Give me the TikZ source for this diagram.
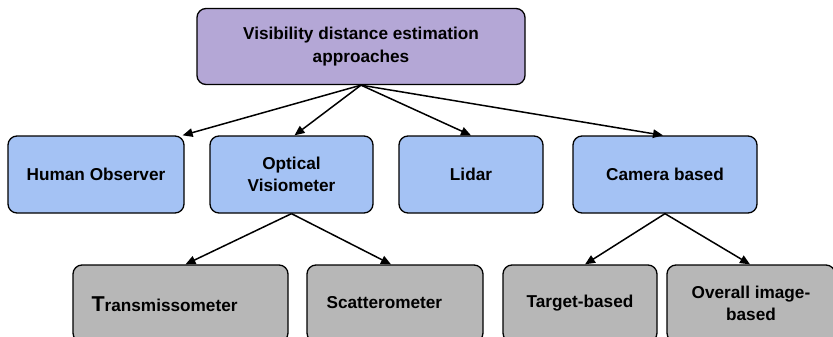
\documentclass[tikz,border=0pt]{standalone}
\usepackage{fontspec}
\setmainfont{Liberation Sans}
\usetikzlibrary{arrows.meta}

\definecolor{rootfill}{HTML}{B4A7D6}
\definecolor{midfill}{HTML}{A4C2F4}
\definecolor{lowfill}{HTML}{B7B7B7}

\tikzset{
  box/.style={draw=black, line width=1.3pt, rounded corners=9pt, align=center,
    font=\fontsize{17.2}{22.5}\selectfont\bfseries, inner sep=0pt},
  rootbox/.style={box, fill=rootfill, minimum width=328pt, minimum height=76pt},
  midbox/.style={box, fill=midfill, minimum height=77pt},
  lowbox/.style={box, fill=lowfill, minimum height=77pt},
  link/.style={line width=1.5pt, -{Triangle[length=10pt,width=8.5pt]}}
}

\begin{document}
\begin{tikzpicture}[x=1pt,y=-1pt]

        \useasboundingbox (0,0) rectangle (833,337);
        \clip (0,0) rectangle (833,337);

        % Root
        \node[rootbox] (root) at (361,46.5) {Visibility distance estimation\\approaches};

        % Approaches
        \node[midbox, minimum width=176pt] (human) at (96,174.5) {Human Observer};
        \node[midbox, minimum width=163pt] (optical) at (291.5,174.5) {Optical\\Visiometer};
        \node[midbox, minimum width=144pt] (lidar) at (471,174.5) {Lidar};
        \node[midbox, minimum width=184pt] (camera) at (665,174.5) {Camera based};

        % Optical sensors
        \node[lowbox, minimum width=215pt] (trans) at (180.5,303.5) {};
        \node[anchor=west, font=\fontsize{17.2}{22.5}\selectfont\bfseries] (transtext) at (88,304)
          {{\fontsize{21.5}{22}\selectfont T}ransmissometer};
        \node[lowbox, minimum width=176pt] (scatter) at (395,303.5) {};
        \node[anchor=west, font=\fontsize{17.2}{22.5}\selectfont\bfseries] (scattertext) at (323,303)
          {Scatterometer};

        % Camera methods
        \node[lowbox, minimum width=154pt] (target) at (580,303.5) {Target-based};
        \node[lowbox, minimum width=168pt] (overall) at (751,303.5) {Overall image-\\based};

        % Links
        \draw[link] (root.south) -- ([xshift=-2pt]human.north east);
        \draw[link] (root.south) -- ([xshift=3pt]optical.north);
        \draw[link] (root.south) -- (lidar.north);
        \draw[link] (root.south) -- ([xshift=-2pt]camera.north);
        \draw[link] (optical.south) -- ([xshift=5pt]trans.north);
        \draw[link] (optical.south) -- ([xshift=-4pt]scatter.north);
        \draw[link] (camera.south) -- ([xshift=5pt]target.north);
        \draw[link] (camera.south) -- ([xshift=-1pt]overall.north);

    \end{tikzpicture}
\end{document}
